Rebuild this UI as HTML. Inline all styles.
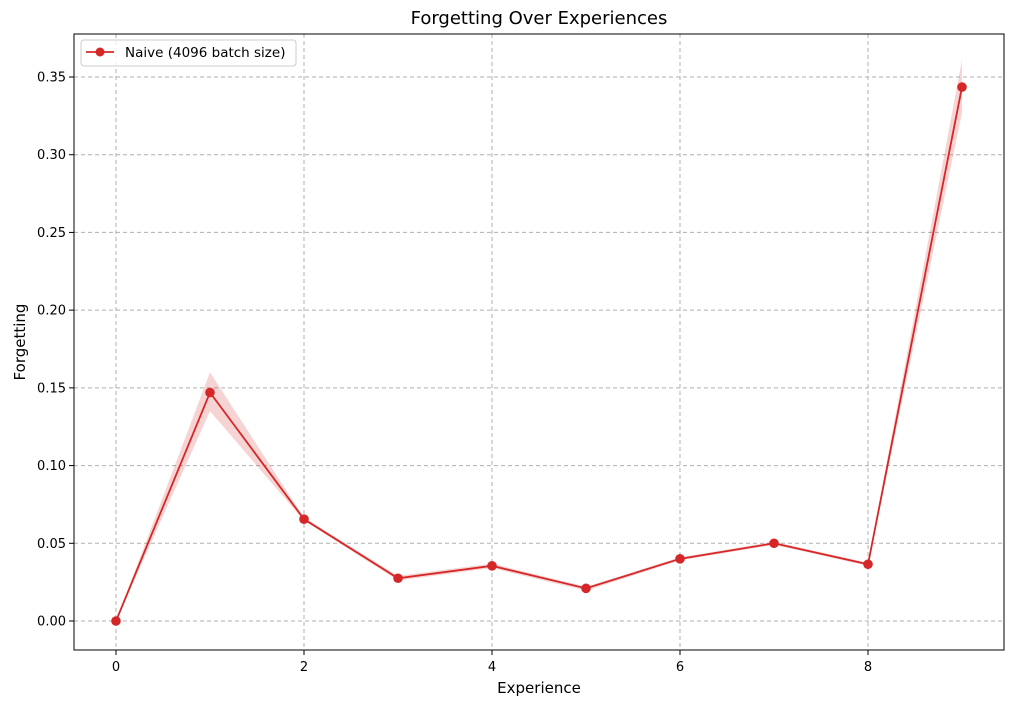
<!DOCTYPE html>
<html><head><meta charset="utf-8"><style>
body{margin:0;background:#fff;font-family:"Liberation Sans","DejaVu Sans",sans-serif}
svg text{font-family:"DejaVu Sans","Liberation Sans",sans-serif}
</style></head><body>
<svg id="chart" width="1014" height="706" xmlns="http://www.w3.org/2000/svg">
<rect width="1014" height="706" fill="#fff"/>
<g id="grid"></g>
<g id="band"></g>
<g id="series"></g>
<rect x="74" y="34" width="930" height="616" fill="none" stroke="#000" stroke-width="1"/>
<g id="ticks" font-size="13"></g>
<text x="539" y="24" text-anchor="middle" font-size="18">Forgetting Over Experiences</text>
<text x="539" y="693" text-anchor="middle" font-size="15">Experience</text>
<text transform="translate(25,342) rotate(-90)" text-anchor="middle" font-size="15">Forgetting</text>
<g>
<rect x="81" y="40" width="215" height="26" rx="3" fill="#fff" fill-opacity="0.8" stroke="#ccc"/>
<line x1="86" y1="52" x2="114" y2="52" stroke="#d62728" stroke-width="1.8"/>
<circle cx="100" cy="52" r="4.5" fill="#d62728"/>
<text x="125" y="57" font-size="13.5">Naive (4096 batch size)</text>
</g>
</svg>
<script>
const experiences=[0,1,2,3,4,5,6,7,8,9];
const forgetting=[0,0.147,0.0655,0.0275,0.0355,0.021,0.040,0.050,0.0365,0.3435];
const upper=[0,0.160,0.0665,0.029,0.037,0.022,0.041,0.051,0.0375,0.361];
const lower=[0,0.135,0.0645,0.026,0.034,0.0195,0.039,0.049,0.0355,0.327];
const xTicks=[0,2,4,6,8];
const yTicks=[0,0.05,0.10,0.15,0.20,0.25,0.30,0.35];
const X=v=>116+(962-116)*v/9;
const Y=v=>621-(621-77)*v/0.35;
const ns="http://www.w3.org/2000/svg";
function mk(t,a,p){const e=document.createElementNS(ns,t);for(const k in a)e.setAttribute(k,a[k]);p.appendChild(e);return e;}
const grid=document.getElementById('grid'),ticks=document.getElementById('ticks');
xTicks.forEach(t=>{
 const g=mk('line',{x1:X(t),x2:X(t),y1:34,y2:650,stroke:'#b0b0b0','stroke-dasharray':'4,3'},grid);
 
 
 mk('line',{x1:X(t),x2:X(t),y1:650,y2:655,stroke:'#000'},ticks);
 const tx=mk('text',{x:X(t),y:671,'text-anchor':'middle'},ticks);tx.textContent=t;
 
 
});
yTicks.forEach(t=>{
 const g=mk('line',{x1:74,x2:1004,y1:Y(t),y2:Y(t),stroke:'#b0b0b0','stroke-dasharray':'4,3'},grid);
 
 
 mk('line',{x1:69,x2:74,y1:Y(t),y2:Y(t),stroke:'#000'},ticks);
 const tx=mk('text',{x:66,y:Y(t)+4.5,'text-anchor':'end'},ticks);tx.textContent=t.toFixed(2);
 
 
});
let d=experiences.map((e,i)=>(i?'L':'M')+X(e)+','+Y(upper[i])).join('');
for(let i=experiences.length-1;i>=0;i--)d+='L'+X(experiences[i])+','+Y(lower[i]);
const b=mk('path',{d:d+'Z',fill:'#d62728','fill-opacity':0.2,stroke:'none'},document.getElementById('band'));


const s=document.getElementById('series');
const l=mk('polyline',{points:experiences.map((e,i)=>X(e)+','+Y(forgetting[i])).join(' '),fill:'none',stroke:'#d62728','stroke-width':1.8},s);


experiences.forEach((e,i)=>{
 const c=mk('circle',{cx:X(e),cy:Y(forgetting[i]),r:4.8,fill:'#d62728'},s);
 
 
});
</script>
</body></html>
